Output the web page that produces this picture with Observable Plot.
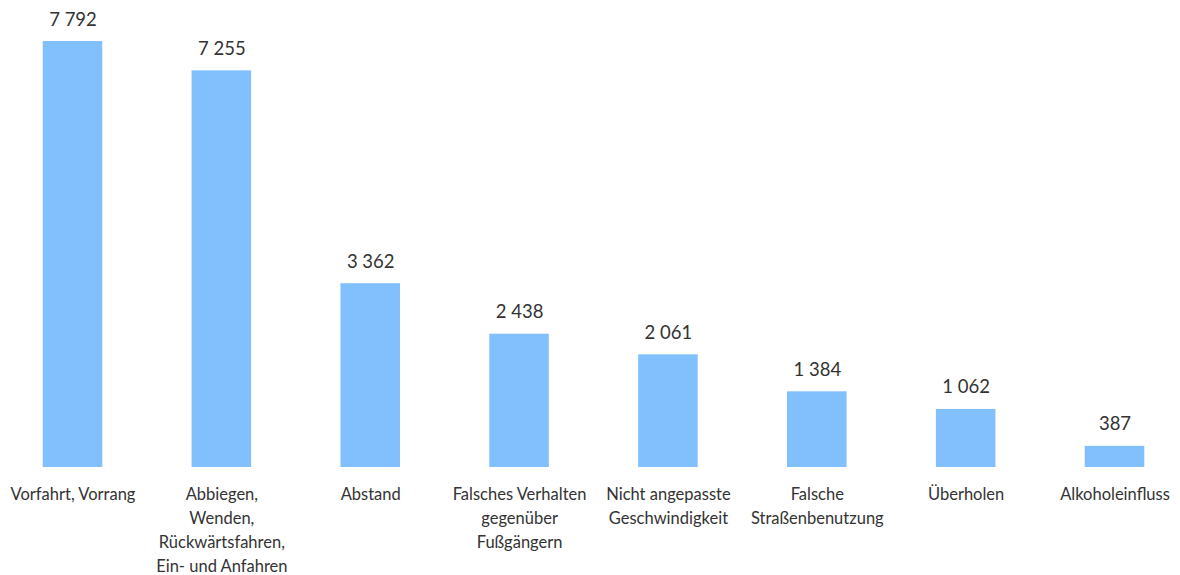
<!DOCTYPE html>
<html><head><meta charset="utf-8">
<script src="https://cdn.jsdelivr.net/npm/d3@7"></script>
<script src="https://cdn.jsdelivr.net/npm/@observablehq/plot@0.6"></script>
<style>
html,body{margin:0;padding:0;background:#fff;}
#chart svg{display:block;}
</style>
</head><body><div id="chart"></div>
<script>
const categories = [
  "Vorfahrt, Vorrang",
  "Abbiegen,\nWenden,\nRückwärtsfahren,\nEin- und Anfahren",
  "Abstand",
  "Falsches Verhalten\ngegenüber\nFußgängern",
  "Nicht angepasste\nGeschwindigkeit",
  "Falsche\nStraßenbenutzung",
  "Überholen",
  "Alkoholeinfluss"
];
const values = [7792, 7255, 3362, 2438, 2061, 1384, 1062, 387];

const data = categories.map((c, i) => ({category: c, value: values[i]}));
const fmt = d3.formatLocale({decimal: ",", thousands: " ", grouping: [3], currency: ["", " €"]}).format(",d");

const chart = Plot.plot({
  width: 1180,
  height: 575,
  marginLeft: 7,
  marginRight: 0,
  marginTop: 41,
  marginBottom: 108,
  style: {fontFamily: "Lato, sans-serif", background: "#fff", color: "#333"},
  x: {domain: categories, padding: 0.6, paddingOuter: 0.24, round: false, label: null},
  y: {domain: [0, 7792], axis: null},
  marks: [
    Plot.barY(data, {x: "category", y: "value", fill: "#82bffd"}),
    Plot.text(data, {x: "category", y: "value", text: d => fmt(d.value), dy: -16, lineAnchor: "bottom", fontSize: 18.5, fill: "#333"}),
    Plot.axisX({tickSize: 0, tickPadding: 16, fontSize: 16.5, lineHeight: 1.45, fill: "#333", label: null})
  ]
});
document.getElementById("chart").appendChild(chart);
</script>
</body></html>
